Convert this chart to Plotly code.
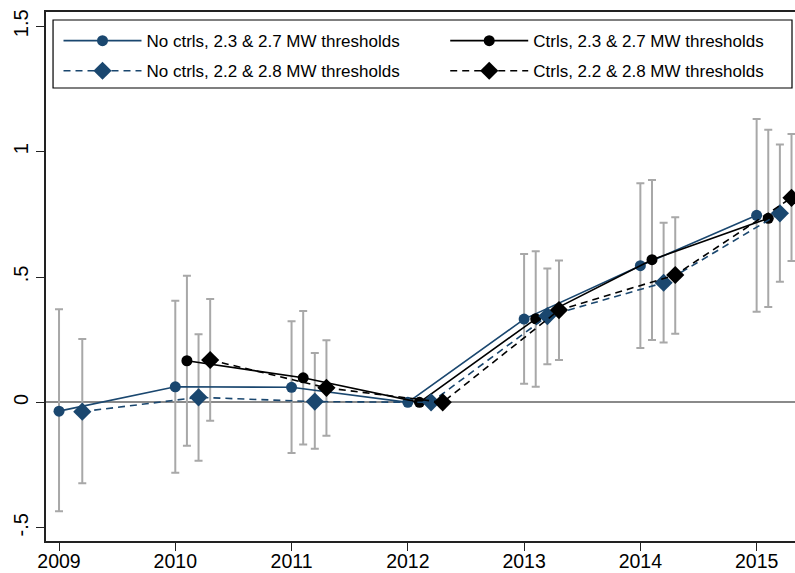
import plotly.graph_objects as go

# event-study estimates
years = [2009, 2010, 2011, 2012, 2013, 2014, 2015]
ctrl_years = [2010, 2011, 2012, 2013, 2014, 2015]

# No ctrls, 2.3 & 2.7 MW
nc_a = [-0.035, 0.062, 0.060, 0.0, 0.332, 0.545, 0.746]
nc_a_lo = [-0.434, -0.281, -0.202, None, 0.074, 0.217, 0.361]
nc_a_hi = [0.371, 0.405, 0.324, None, 0.592, 0.874, 1.130]

# No ctrls, 2.2 & 2.8 MW
nc_b = [-0.037, 0.020, 0.003, 0.0, 0.344, 0.477, 0.754]
nc_b_lo = [-0.323, -0.233, -0.185, None, 0.152, 0.239, 0.481]
nc_b_hi = [0.253, 0.272, 0.197, None, 0.534, 0.716, 1.029]

# Ctrls, 2.3 & 2.7 MW
c_a = [0.166, 0.098, 0.0, 0.333, 0.569, 0.734]
c_a_lo = [-0.173, -0.168, None, 0.062, 0.249, 0.380]
c_a_hi = [0.505, 0.364, None, 0.603, 0.887, 1.087]

# Ctrls, 2.2 & 2.8 MW
c_b = [0.169, 0.058, 0.0, 0.368, 0.508, 0.816]
c_b_lo = [-0.073, -0.133, None, 0.169, 0.274, 0.564]
c_b_hi = [0.412, 0.248, None, 0.566, 0.738, 1.070]

y_ticks = [-0.5, 0, 0.5, 1, 1.5]
y_labels = ["-.5", "0", ".5", "1", "1.5"]

NAVY = "#1a476f"
GRAY = "#a8a8a8"

# name, x, y, lo, hi, x offset, colour, symbol, dash, size, legend
series = [
    ("No ctrls, 2.3 & 2.7 MW thresholds", years, nc_a, nc_a_lo, nc_a_hi, 0.0, NAVY, "circle", "solid", 11, "legend"),
    ("Ctrls, 2.3 & 2.7 MW thresholds", ctrl_years, c_a, c_a_lo, c_a_hi, 0.1, "black", "circle", "solid", 11, "legend2"),
    ("No ctrls, 2.2 & 2.8 MW thresholds", years, nc_b, nc_b_lo, nc_b_hi, 0.2, NAVY, "diamond", "7px,5px", 14, "legend"),
    ("Ctrls, 2.2 & 2.8 MW thresholds", ctrl_years, c_b, c_b_lo, c_b_hi, 0.3, "black", "diamond", "7px,5px", 14, "legend2"),
]

fig = go.Figure()

# confidence intervals first so the lines sit on top
for name, xs, ys, lo, hi, off, col, sym, dash, size, leg in series:
    px_, py, up, dn = [], [], [], []
    for x, y, l, h in zip(xs, ys, lo, hi):
        if l is None:
            continue
        px_.append(x + off)
        py.append(y)
        up.append(h - y)
        dn.append(y - l)
    fig.add_trace(go.Scatter(
        x=px_, y=py, mode="markers", marker=dict(size=0.1, opacity=0),
        error_y=dict(type="data", array=up, arrayminus=dn, color=GRAY, thickness=2, width=4),
        showlegend=False, hoverinfo="skip"))

for i, (name, xs, ys, lo, hi, off, col, sym, dash, size, leg) in enumerate(series):
    fig.add_trace(go.Scatter(
        x=[x + off for x in xs], y=ys, mode="lines+markers", name=name,
        legend=leg, legendgroup="g%d" % i,
        line=dict(color=col, width=1.6, dash=dash),
        marker=dict(symbol=sym, size=size, color=col)))

leg_common = dict(
    orientation="v", yanchor="top", xanchor="left",
    font=dict(size=17), bgcolor="rgba(0,0,0,0)", borderwidth=0,
    tracegroupgap=5, itemwidth=78)

fig.update_layout(
    width=795, height=573,
    margin=dict(l=46, r=0, t=12, b=32),
    paper_bgcolor="white", plot_bgcolor="white",
    font=dict(family="Liberation Sans, Arial, sans-serif", color="black", size=19),
    legend=dict(x=0.0167, y=0.979, **leg_common),
    legend2=dict(x=0.533, y=0.979, **leg_common),
    shapes=[dict(type="rect", xref="paper", yref="paper",
                 x0=0.0094, x1=0.996, y0=0.8563, y1=0.9849,
                 line=dict(color="black", width=1.2), layer="above")],
    xaxis=dict(
        range=[2008.888, 2015.33], tickvals=years, ticktext=[str(y) for y in years],
        showgrid=False, zeroline=False, showline=True, linecolor="#222", linewidth=1.5,
        mirror=True, ticks="outside", ticklen=8, tickcolor="#222",
        tickfont=dict(size=19.5), ticklabelstandoff=-6, automargin=False),
    yaxis=dict(
        range=[-0.553, 1.557], tickvals=y_ticks, ticktext=y_labels, tickangle=-90,
        showgrid=False, zeroline=True, zerolinecolor="#8a8a8a", zerolinewidth=1.5,
        showline=True, linecolor="#222", linewidth=1.5,
        ticks="outside", ticklen=8, tickcolor="#222",
        tickfont=dict(size=20), automargin=False),
)

# drop the default 8px page margin so the figure fills the window
fig.write_html("out.html", config={"displayModeBar": False},
               post_script="document.body.style.margin='0';document.body.style.overflow='hidden';")
